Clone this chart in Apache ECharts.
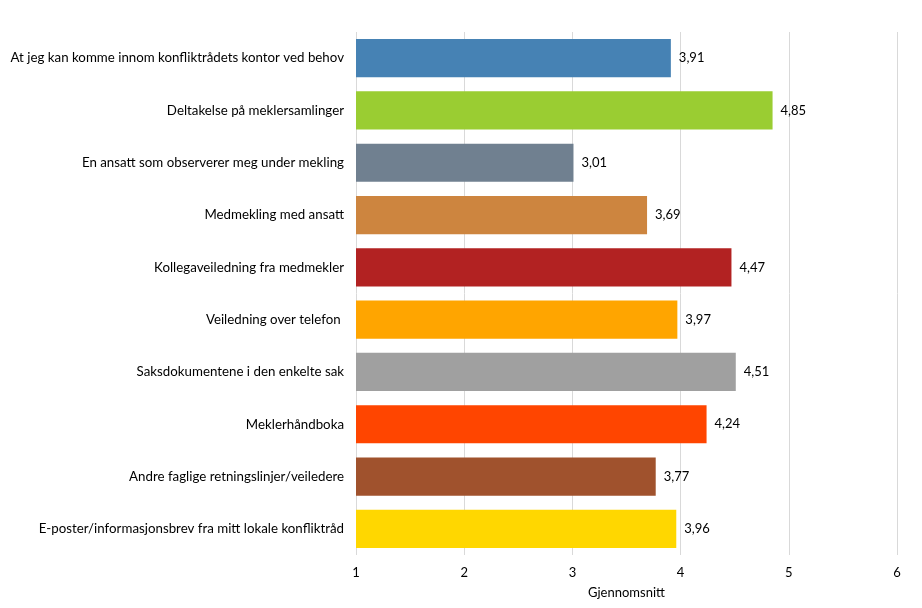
<!DOCTYPE html>
<html><head><meta charset="utf-8">
<script src="https://cdn.jsdelivr.net/npm/echarts@6/dist/echarts.min.js"></script>
<style>html,body{margin:0;padding:0;background:#fff}#c{width:922px;height:608px}</style>
</head><body><div id="c"></div>
<script>
const categories = [
  "At jeg kan komme innom konfliktrådets kontor ved behov",
  "Deltakelse på meklersamlinger",
  "En ansatt som observerer meg under mekling",
  "Medmekling med ansatt",
  "Kollegaveiledning fra medmekler",
  "Veiledning over telefon ",
  "Saksdokumentene i den enkelte sak",
  "Meklerhåndboka",
  "Andre faglige retningslinjer/veiledere",
  "E-poster/informasjonsbrev fra mitt lokale konfliktråd"
];
const values = [3.91, 4.85, 3.01, 3.69, 4.47, 3.97, 4.51, 4.24, 3.77, 3.96];
const colors = ["#4682B4","#9ACD32","#708090","#CD853F","#B22222","#FFA500","#A0A0A0","#FF4500","#A0522D","#FFD700"];
const xTicks = [1, 2, 3, 4, 5, 6];
const axisName = "Gjennomsnitt";

const font = "Lato";
const chart = echarts.init(document.getElementById('c'));
chart.setOption({
  animation: false,
  grid: {left: 356, right: 25, top: 32, bottom: 53, containLabel: false},
  xAxis: {
    type: 'value', min: xTicks[0], max: xTicks[xTicks.length-1], interval: 1,
    name: axisName, nameLocation: 'middle', nameGap: 31,
    nameTextStyle: {color: '#000', fontFamily: font, fontSize: 13},
    axisLine: {show: false}, axisTick: {show: false},
    axisLabel: {color: '#000', fontFamily: font, fontSize: 13, margin: 11},
    splitLine: {show: true, lineStyle: {color: '#d9d9d9', width: 1}}
  },
  yAxis: {
    type: 'category', data: categories, inverse: true,
    axisLine: {show: false}, axisTick: {show: false},
    axisLabel: {color: '#000', fontFamily: font, fontSize: 13.3, margin: 12}
  },
  series: [{
    type: 'bar', barCategoryGap: '27%',
    data: values.map((v, i) => ({value: v, itemStyle: {color: colors[i]}})),
    label: {show: true, position: 'right', distance: 8, color: '#000', fontFamily: font, fontSize: 13,
      formatter: p => p.value.toFixed(2).replace('.', ',')}
  }]
});
</script></body></html>
